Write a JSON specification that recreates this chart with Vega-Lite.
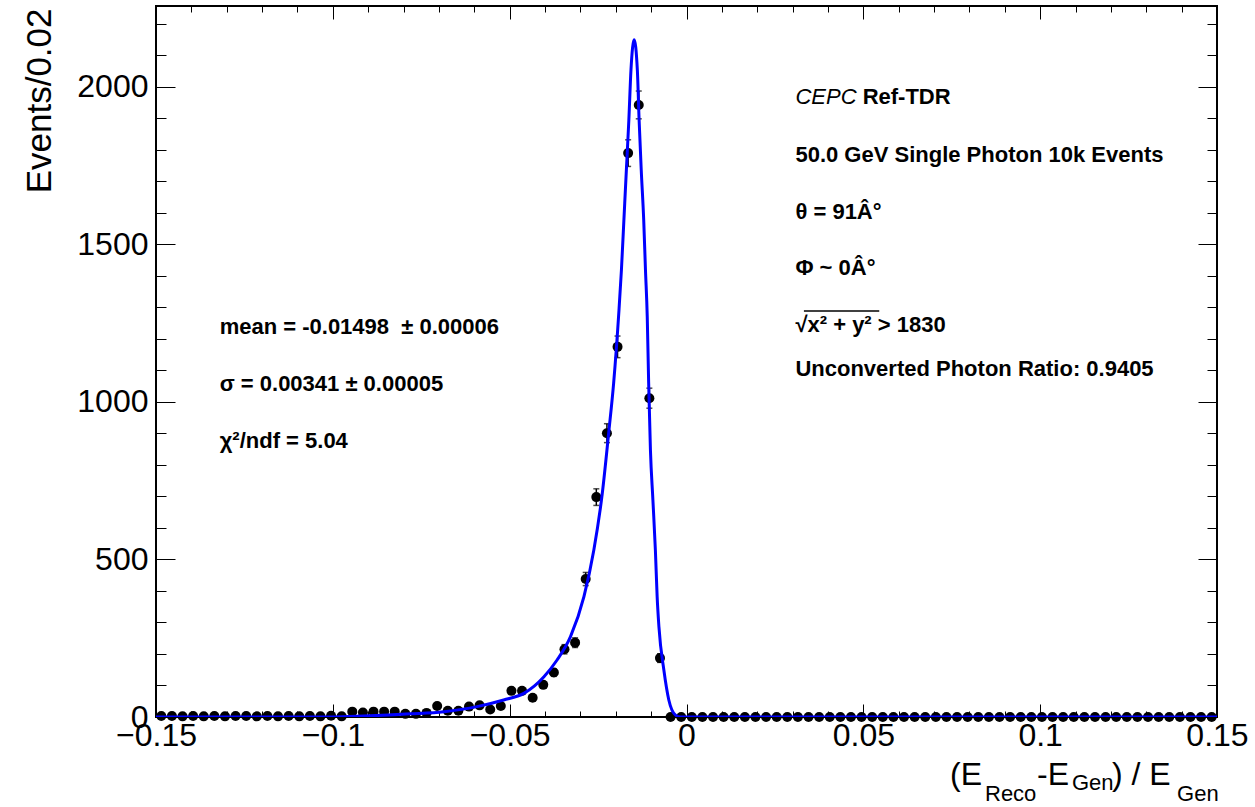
{
  "$schema": "https://vega.github.io/schema/vega-lite/v6.json",
  "autosize": {"type": "none"},
  "padding": {"left": 156, "top": 6, "right": 38, "bottom": 90},
  "width": 1061,
  "height": 711,
  "background": "white",
  "config": {
    "view": {"stroke": "black", "strokeWidth": 2},
    "axis": {"grid": false, "domain": false, "labelFont": "Liberation Sans", "labelColor": "black", "tickColor": "black", "tickWidth": 1, "labelFlush": false, "labelOverlap": false, "labelBound": false, "title": null}
  },
  "resolve": {"axis": {"x": "independent", "y": "independent"}},
  "datasets": {
    "one": [{}],
    "hist": [
      {"x": -0.1485, "n": 3, "e": 1.7}, {"x": -0.1455, "n": 3, "e": 1.7}, {"x": -0.1425, "n": 2, "e": 1.4}, {"x": -0.1395, "n": 3, "e": 1.7},
      {"x": -0.1365, "n": 2, "e": 1.4}, {"x": -0.1335, "n": 3, "e": 1.7}, {"x": -0.1305, "n": 2, "e": 1.4}, {"x": -0.1275, "n": 3, "e": 1.7},
      {"x": -0.1245, "n": 3, "e": 1.7}, {"x": -0.1215, "n": 2, "e": 1.4}, {"x": -0.1185, "n": 3, "e": 1.7}, {"x": -0.1155, "n": 2, "e": 1.4},
      {"x": -0.1125, "n": 3, "e": 1.7}, {"x": -0.1095, "n": 2, "e": 1.4}, {"x": -0.1065, "n": 3, "e": 1.7}, {"x": -0.1035, "n": 2, "e": 1.4},
      {"x": -0.1005, "n": 4, "e": 2}, {"x": -0.0975, "n": 2, "e": 1.4}, {"x": -0.0945, "n": 17, "e": 4.1}, {"x": -0.0915, "n": 14, "e": 3.7},
      {"x": -0.0885, "n": 17, "e": 4.1}, {"x": -0.0855, "n": 17, "e": 4.1}, {"x": -0.0825, "n": 17, "e": 4.1}, {"x": -0.0795, "n": 10, "e": 3.2},
      {"x": -0.0765, "n": 10, "e": 3.2}, {"x": -0.0735, "n": 13, "e": 3.6}, {"x": -0.0705, "n": 35, "e": 5.9}, {"x": -0.0675, "n": 20, "e": 4.5},
      {"x": -0.0645, "n": 20, "e": 4.5}, {"x": -0.0615, "n": 33, "e": 5.7}, {"x": -0.0585, "n": 37, "e": 6.1}, {"x": -0.0555, "n": 24, "e": 4.9},
      {"x": -0.0525, "n": 35, "e": 5.9}, {"x": -0.0495, "n": 83, "e": 9.1}, {"x": -0.0465, "n": 83, "e": 9.1}, {"x": -0.0435, "n": 61, "e": 7.8},
      {"x": -0.0405, "n": 102, "e": 10.1}, {"x": -0.0375, "n": 141, "e": 11.9}, {"x": -0.0345, "n": 215, "e": 14.7}, {"x": -0.0315, "n": 236, "e": 15.4},
      {"x": -0.0285, "n": 438, "e": 20.9}, {"x": -0.0255, "n": 698, "e": 26.4}, {"x": -0.0225, "n": 901, "e": 30}, {"x": -0.0195, "n": 1175, "e": 34.3},
      {"x": -0.0165, "n": 1790, "e": 42.3}, {"x": -0.0135, "n": 1943, "e": 44.1}, {"x": -0.0105, "n": 1012, "e": 31.8}, {"x": -0.0075, "n": 187, "e": 13.7},
      {"x": -0.0045, "n": 0, "e": 0}, {"x": -0.0015, "n": 0, "e": 0},
      {"x": 0.0015, "n": 0, "e": 0}, {"x": 0.0045, "n": 0, "e": 0}, {"x": 0.0075, "n": 0, "e": 0}, {"x": 0.0105, "n": 0, "e": 0},
      {"x": 0.0135, "n": 0, "e": 0}, {"x": 0.0165, "n": 0, "e": 0}, {"x": 0.0195, "n": 0, "e": 0}, {"x": 0.0225, "n": 0, "e": 0},
      {"x": 0.0255, "n": 0, "e": 0}, {"x": 0.0285, "n": 0, "e": 0}, {"x": 0.0315, "n": 0, "e": 0}, {"x": 0.0345, "n": 0, "e": 0},
      {"x": 0.0375, "n": 0, "e": 0}, {"x": 0.0405, "n": 0, "e": 0}, {"x": 0.0435, "n": 0, "e": 0}, {"x": 0.0465, "n": 0, "e": 0},
      {"x": 0.0495, "n": 0, "e": 0}, {"x": 0.0525, "n": 0, "e": 0}, {"x": 0.0555, "n": 0, "e": 0}, {"x": 0.0585, "n": 0, "e": 0},
      {"x": 0.0615, "n": 0, "e": 0}, {"x": 0.0645, "n": 0, "e": 0}, {"x": 0.0675, "n": 0, "e": 0}, {"x": 0.0705, "n": 0, "e": 0},
      {"x": 0.0735, "n": 0, "e": 0}, {"x": 0.0765, "n": 0, "e": 0}, {"x": 0.0795, "n": 0, "e": 0}, {"x": 0.0825, "n": 0, "e": 0},
      {"x": 0.0855, "n": 0, "e": 0}, {"x": 0.0885, "n": 0, "e": 0}, {"x": 0.0915, "n": 0, "e": 0}, {"x": 0.0945, "n": 0, "e": 0},
      {"x": 0.0975, "n": 0, "e": 0}, {"x": 0.1005, "n": 0, "e": 0}, {"x": 0.1035, "n": 0, "e": 0}, {"x": 0.1065, "n": 0, "e": 0},
      {"x": 0.1095, "n": 0, "e": 0}, {"x": 0.1125, "n": 0, "e": 0}, {"x": 0.1155, "n": 0, "e": 0}, {"x": 0.1185, "n": 0, "e": 0},
      {"x": 0.1215, "n": 0, "e": 0}, {"x": 0.1245, "n": 0, "e": 0}, {"x": 0.1275, "n": 0, "e": 0}, {"x": 0.1305, "n": 0, "e": 0},
      {"x": 0.1335, "n": 0, "e": 0}, {"x": 0.1365, "n": 0, "e": 0}, {"x": 0.1395, "n": 0, "e": 0}, {"x": 0.1425, "n": 0, "e": 0},
      {"x": 0.1455, "n": 0, "e": 0}, {"x": 0.1485, "n": 0, "e": 0}
    ],
    "fit": [
      {"x": -0.15, "y": 0}, {"x": -0.1, "y": 0}, {"x": -0.0912, "y": 3}, {"x": -0.078, "y": 10}, {"x": -0.0686, "y": 17},
      {"x": -0.0592, "y": 33}, {"x": -0.0517, "y": 54}, {"x": -0.046, "y": 75}, {"x": -0.0403, "y": 128}, {"x": -0.0366, "y": 181},
      {"x": -0.0328, "y": 255}, {"x": -0.029, "y": 382}, {"x": -0.0262, "y": 530}, {"x": -0.0238, "y": 711}, {"x": -0.022, "y": 902},
      {"x": -0.0206, "y": 1060}, {"x": -0.0191, "y": 1290}, {"x": -0.0184, "y": 1419}, {"x": -0.0177, "y": 1578}, {"x": -0.017, "y": 1737},
      {"x": -0.0163, "y": 1895}, {"x": -0.0157, "y": 2054}, {"x": -0.0148, "y": 2150}, {"x": -0.0139, "y": 2054}, {"x": -0.0134, "y": 1895},
      {"x": -0.0128, "y": 1737}, {"x": -0.0121, "y": 1578}, {"x": -0.0116, "y": 1419}, {"x": -0.0111, "y": 1271}, {"x": -0.0107, "y": 1060},
      {"x": -0.0102, "y": 848}, {"x": -0.0095, "y": 689}, {"x": -0.0088, "y": 530}, {"x": -0.0083, "y": 382}, {"x": -0.0078, "y": 287},
      {"x": -0.0064, "y": 149}, {"x": -0.005, "y": 54}, {"x": -0.0031, "y": 6}, {"x": -0.0017, "y": 0}, {"x": 0.15, "y": 0}
    ]
  },
  "layer": [
    {
      "data": {"name": "hist"},
      "mark": {"type": "errorbar", "color": "black", "thickness": 1.5, "ticks": {"size": 6, "color": "black"}},
      "encoding": {
        "x": {"field": "x", "type": "quantitative", "scale": {"domain": [-0.15, 0.15], "nice": false, "zero": false}, "axis": null},
        "y": {"field": "n", "type": "quantitative", "scale": {"domain": [0, 2257], "nice": false}, "axis": null},
        "yError": {"field": "e"}
      }
    },
    {
      "data": {"name": "hist"},
      "mark": {"type": "circle", "size": 100, "color": "black", "opacity": 1},
      "encoding": {
        "x": {"field": "x", "type": "quantitative", "axis": null},
        "y": {"field": "n", "type": "quantitative", "axis": null}
      }
    },
    {
      "data": {"name": "fit"},
      "mark": {"type": "line", "color": "#0000ff", "strokeWidth": 3, "interpolate": "monotone", "clip": true},
      "encoding": {
        "x": {"field": "x", "type": "quantitative", "axis": {"orient": "bottom", "values": [-0.15, -0.1, -0.05, 0, 0.05, 0.1, 0.15], "labelExpr": "replace(format(datum.value, '.2~f'), '-', '−')", "ticks": false, "labelFontSize": 32, "labelPadding": 3}},
        "y": {"field": "y", "type": "quantitative", "axis": {"orient": "left", "values": [0, 500, 1000, 1500, 2000], "format": "d", "ticks": false, "labelFontSize": 32, "labelPadding": 8,
          "title": "Events/0.02", "titleFont": "Liberation Sans", "titleFontSize": 35, "titleFontWeight": "normal", "titleColor": "black", "titleAngle": 270, "titleAlign": "right", "titleBaseline": "middle", "titleX": -117, "titleY": 2}}
      }
    },
    {
      "data": {"name": "one"},
      "mark": {"type": "point", "opacity": 0},
      "encoding": {
        "x": {"datum": 0, "type": "quantitative", "axis": {"orient": "bottom", "values": [-0.15, -0.1, -0.05, 0, 0.05, 0.1, 0.15], "labels": false, "tickSize": -13}},
        "y": {"datum": 0, "type": "quantitative", "axis": {"orient": "left", "values": [0, 500, 1000, 1500, 2000], "labels": false, "tickSize": -19}}
      }
    },
    {
      "data": {"name": "one"},
      "mark": {"type": "point", "opacity": 0},
      "encoding": {
        "x": {"datum": 0, "type": "quantitative", "axis": {"orient": "bottom", "values": [-0.14, -0.13, -0.12, -0.11, -0.09, -0.08, -0.07, -0.06, -0.04, -0.03, -0.02, -0.01, 0.01, 0.02, 0.03, 0.04, 0.06, 0.07, 0.08, 0.09, 0.11, 0.12, 0.13, 0.14], "labels": false, "tickSize": -6}},
        "y": {"datum": 0, "type": "quantitative", "axis": {"orient": "left", "values": [100, 200, 300, 400, 600, 700, 800, 900, 1100, 1200, 1300, 1400, 1600, 1700, 1800, 1900, 2100, 2200], "labels": false, "tickSize": -10}}
      }
    },
    {
      "data": {"name": "one"},
      "mark": {"type": "point", "opacity": 0},
      "encoding": {
        "x": {"datum": 0, "type": "quantitative", "axis": {"orient": "top", "values": [-0.15, -0.1, -0.05, 0, 0.05, 0.1, 0.15], "labels": false, "tickSize": -13}},
        "y": {"datum": 0, "type": "quantitative", "axis": {"orient": "right", "values": [0, 500, 1000, 1500, 2000], "labels": false, "tickSize": -19}}
      }
    },
    {
      "data": {"name": "one"},
      "mark": {"type": "point", "opacity": 0},
      "encoding": {
        "x": {"datum": 0, "type": "quantitative", "axis": {"orient": "top", "values": [-0.14, -0.13, -0.12, -0.11, -0.09, -0.08, -0.07, -0.06, -0.04, -0.03, -0.02, -0.01, 0.01, 0.02, 0.03, 0.04, 0.06, 0.07, 0.08, 0.09, 0.11, 0.12, 0.13, 0.14], "labels": false, "tickSize": -6}},
        "y": {"datum": 0, "type": "quantitative", "axis": {"orient": "right", "values": [100, 200, 300, 400, 600, 700, 800, 900, 1100, 1200, 1300, 1400, 1600, 1700, 1800, 1900, 2100, 2200], "labels": false, "tickSize": -10}}
      }
    },
    {
      "data": {"name": "one"},
      "mark": {"type": "text", "align": "left", "baseline": "alphabetic", "font": "Liberation Sans", "fontSize": 22, "fontStyle": "italic", "color": "black"},
      "encoding": {"x": {"datum": 0.0308, "type": "quantitative", "axis": null}, "y": {"datum": 1946, "type": "quantitative", "axis": null}, "text": {"value": "CEPC"}}
    },
    {
      "data": {"name": "one"},
      "mark": {"type": "text", "align": "left", "baseline": "alphabetic", "font": "Liberation Sans", "fontSize": 22, "fontWeight": "bold", "color": "black"},
      "encoding": {"x": {"datum": 0.0498, "type": "quantitative", "axis": null}, "y": {"datum": 1946, "type": "quantitative", "axis": null}, "text": {"value": "Ref-TDR"}}
    },
    {
      "data": {"name": "one"},
      "mark": {"type": "text", "align": "left", "baseline": "alphabetic", "font": "Liberation Sans", "fontSize": 22, "fontWeight": "bold", "color": "black"},
      "encoding": {"x": {"datum": 0.0308, "type": "quantitative", "axis": null}, "y": {"datum": 1762, "type": "quantitative", "axis": null}, "text": {"value": "50.0 GeV Single Photon 10k Events"}}
    },
    {
      "data": {"name": "one"},
      "mark": {"type": "text", "align": "left", "baseline": "alphabetic", "font": "Liberation Sans", "fontSize": 22, "fontWeight": "bold", "color": "black"},
      "encoding": {"x": {"datum": 0.0308, "type": "quantitative", "axis": null}, "y": {"datum": 1581, "type": "quantitative", "axis": null}, "text": {"value": "θ = 91Â°"}}
    },
    {
      "data": {"name": "one"},
      "mark": {"type": "text", "align": "left", "baseline": "alphabetic", "font": "Liberation Sans", "fontSize": 22, "fontWeight": "bold", "color": "black"},
      "encoding": {"x": {"datum": 0.0308, "type": "quantitative", "axis": null}, "y": {"datum": 1403, "type": "quantitative", "axis": null}, "text": {"value": "Φ ~ 0Â°"}}
    },
    {
      "data": {"name": "one"},
      "mark": {"type": "text", "align": "left", "baseline": "alphabetic", "font": "Liberation Sans", "fontSize": 22, "fontWeight": "bold", "color": "black"},
      "encoding": {"x": {"datum": 0.0308, "type": "quantitative", "axis": null}, "y": {"datum": 1222, "type": "quantitative", "axis": null}, "text": {"value": "√x² + y² > 1830"}}
    },
    {
      "data": {"name": "one"},
      "mark": {"type": "rule", "color": "black", "strokeWidth": 1.5},
      "encoding": {"x": {"datum": 0.0332, "type": "quantitative", "axis": null}, "x2": {"datum": 0.0545}, "y": {"datum": 1289, "type": "quantitative", "axis": null}}
    },
    {
      "data": {"name": "one"},
      "mark": {"type": "text", "align": "left", "baseline": "alphabetic", "font": "Liberation Sans", "fontSize": 22, "fontWeight": "bold", "color": "black"},
      "encoding": {"x": {"datum": 0.0308, "type": "quantitative", "axis": null}, "y": {"datum": 1083, "type": "quantitative", "axis": null}, "text": {"value": "Unconverted Photon Ratio: 0.9405"}}
    },
    {
      "data": {"name": "one"},
      "mark": {"type": "text", "align": "left", "baseline": "alphabetic", "font": "Liberation Sans", "fontSize": 22, "fontWeight": "bold", "color": "black"},
      "encoding": {"x": {"datum": -0.132, "type": "quantitative", "axis": null}, "y": {"datum": 1216, "type": "quantitative", "axis": null}, "text": {"value": "mean = -0.01498  \u00a0± 0.00006"}}
    },
    {
      "data": {"name": "one"},
      "mark": {"type": "text", "align": "left", "baseline": "alphabetic", "font": "Liberation Sans", "fontSize": 22, "fontWeight": "bold", "color": "black"},
      "encoding": {"x": {"datum": -0.132, "type": "quantitative", "axis": null}, "y": {"datum": 1035, "type": "quantitative", "axis": null}, "text": {"value": "σ = 0.00341 ± 0.00005"}}
    },
    {
      "data": {"name": "one"},
      "mark": {"type": "text", "align": "left", "baseline": "alphabetic", "font": "Liberation Sans", "fontSize": 22, "fontWeight": "bold", "color": "black"},
      "encoding": {"x": {"datum": -0.132, "type": "quantitative", "axis": null}, "y": {"datum": 854, "type": "quantitative", "axis": null}, "text": {"value": "χ²/ndf = 5.04"}}
    },
    {
      "data": {"name": "one"},
      "mark": {"type": "text", "align": "left", "baseline": "alphabetic", "font": "Liberation Sans", "fontSize": 32, "color": "black"},
      "encoding": {"x": {"datum": 0.0745, "type": "quantitative", "axis": null}, "y": {"datum": -216, "type": "quantitative", "axis": null}, "text": {"value": "(E"}}
    },
    {
      "data": {"name": "one"},
      "mark": {"type": "text", "align": "left", "baseline": "alphabetic", "font": "Liberation Sans", "fontSize": 22, "color": "black"},
      "encoding": {"x": {"datum": 0.0844, "type": "quantitative", "axis": null}, "y": {"datum": -267, "type": "quantitative", "axis": null}, "text": {"value": "Reco"}}
    },
    {
      "data": {"name": "one"},
      "mark": {"type": "text", "align": "left", "baseline": "alphabetic", "font": "Liberation Sans", "fontSize": 32, "color": "black"},
      "encoding": {"x": {"datum": 0.0991, "type": "quantitative", "axis": null}, "y": {"datum": -216, "type": "quantitative", "axis": null}, "text": {"value": "-E"}}
    },
    {
      "data": {"name": "one"},
      "mark": {"type": "text", "align": "left", "baseline": "alphabetic", "font": "Liberation Sans", "fontSize": 22, "color": "black"},
      "encoding": {"x": {"datum": 0.109, "type": "quantitative", "axis": null}, "y": {"datum": -232, "type": "quantitative", "axis": null}, "text": {"value": "Gen"}}
    },
    {
      "data": {"name": "one"},
      "mark": {"type": "text", "align": "left", "baseline": "alphabetic", "font": "Liberation Sans", "fontSize": 32, "color": "black"},
      "encoding": {"x": {"datum": 0.1203, "type": "quantitative", "axis": null}, "y": {"datum": -216, "type": "quantitative", "axis": null}, "text": {"value": ") / E"}}
    },
    {
      "data": {"name": "one"},
      "mark": {"type": "text", "align": "left", "baseline": "alphabetic", "font": "Liberation Sans", "fontSize": 22, "color": "black"},
      "encoding": {"x": {"datum": 0.1387, "type": "quantitative", "axis": null}, "y": {"datum": -267, "type": "quantitative", "axis": null}, "text": {"value": "Gen"}}
    }
  ]
}
